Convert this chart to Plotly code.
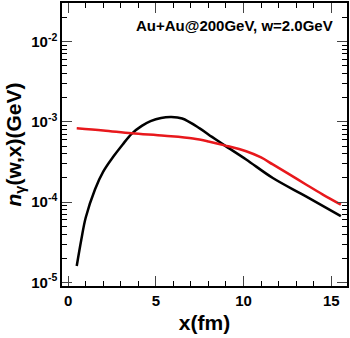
import plotly.graph_objects as go

# black curve
x_black = [0.49, 0.75, 1.0, 1.53, 2.0, 2.58, 3.1, 3.62, 4.2, 4.7, 5.3, 5.89, 6.5, 7.5, 8.2, 8.92, 10.15, 11.67, 13.56, 15.55]
y_black = [1.6e-5, 3.4e-5, 6.4e-5, 1.44e-4, 2.4e-4, 3.7e-4, 5.2e-4, 7.1e-4, 8.9e-4, 1.02e-3, 1.12e-3, 1.15e-3, 1.1e-3, 8.3e-4, 6.5e-4, 5.1e-4, 3.4e-4, 2.0e-4, 1.18e-4, 6.7e-5]
# red curve
x_red = [0.49, 2.0, 3.62, 5.5, 7.12, 8.0, 8.92, 10.15, 11.0, 11.67, 12.5, 13.56, 14.5, 15.55]
y_red = [8.3e-4, 7.8e-4, 7.2e-4, 6.7e-4, 6.2e-4, 5.7e-4, 5.1e-4, 4.3e-4, 3.6e-4, 2.95e-4, 2.3e-4, 1.66e-4, 1.25e-4, 9.3e-5]

ytickvals = [1e-5, 1e-4, 1e-3, 1e-2]
yticktext = ["<b>10<sup>-5</sup></b>", "<b>10<sup>-4</sup></b>", "<b>10<sup>-3</sup></b>", "<b>10<sup>-2</sup></b>"]
xtickvals = [0, 5, 10, 15]
xticktext = ["<b>0</b>", "<b>5</b>", "<b>10</b>", "<b>15</b>"]

font_family = "Liberation Sans, Arial, sans-serif"

fig = go.Figure()
fig.add_trace(go.Scatter(x=x_black, y=y_black, mode="lines", line=dict(color="black", width=2.5, shape="spline", smoothing=1.0)))
fig.add_trace(go.Scatter(x=x_red, y=y_red, mode="lines", line=dict(color="#e8181c", width=2.5, shape="spline", smoothing=1.0)))

fig.update_layout(
    width=350, height=338,
    margin=dict(l=62, r=2, t=1, b=52),
    paper_bgcolor="white", plot_bgcolor="white",
    showlegend=False,
    font=dict(family=font_family, color="black"),
)
fig.update_xaxes(
    range=[-0.35, 15.9], tickvals=xtickvals, ticktext=xticktext, ticks="inside", ticklen=10, tickwidth=1,
    showline=True, linecolor="black", linewidth=1.5, mirror="allticks", showgrid=False, zeroline=False,
    tickfont=dict(size=15, family=font_family),
    minor=dict(ticks="inside", ticklen=5, dtick=1, tickcolor="black", showgrid=False),
    title=dict(text="<b>x(fm)</b>", font=dict(size=21), standoff=8),
)
fig.update_yaxes(
    type="log", range=[-5.044, -1.52], tickvals=ytickvals, ticktext=yticktext,
    ticks="inside", ticklen=10, tickwidth=1,
    showline=True, linecolor="black", linewidth=1.5, mirror="allticks", showgrid=False, zeroline=False,
    tickfont=dict(size=15, family=font_family),
    minor=dict(ticks="inside", ticklen=5, dtick="D1", tickcolor="black", showgrid=False),
    title=dict(text="<b><i>n</i><sub>γ</sub>(w,x)(GeV)</b>", font=dict(size=21), standoff=4),
)
fig.add_annotation(
    x=(336 - 62) / (350 - 64), y=1 - (24 - 1) / (338 - 53), xref="paper", yref="paper",
    text="<b>Au+Au@200GeV, w=2.0GeV</b>",
    showarrow=False, xanchor="right", yanchor="middle", font=dict(size=15, family=font_family),
)

fig.write_html("out.html")
